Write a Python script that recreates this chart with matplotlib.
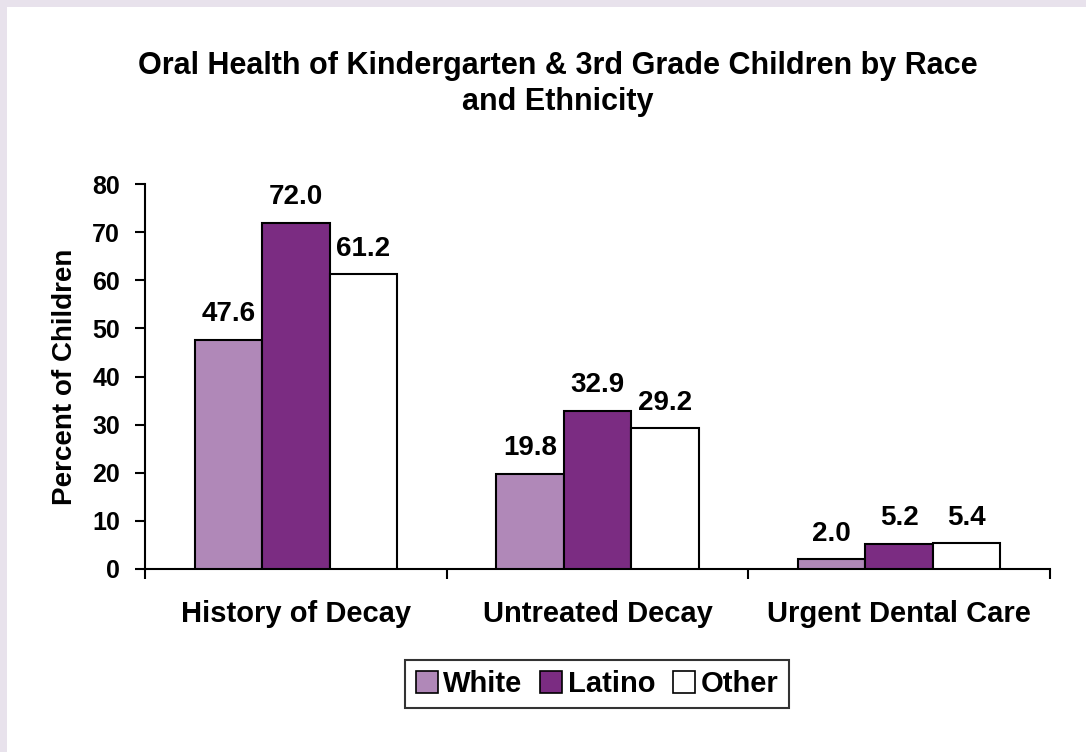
import numpy as np
import matplotlib
matplotlib.use('Agg')
import matplotlib.pyplot as plt
from matplotlib.patches import Rectangle

plt.rcParams['font.family'] = ['Liberation Sans', 'DejaVu Sans']
plt.rcParams['font.weight'] = 'bold'

categories = ['History of Decay', 'Untreated Decay', 'Urgent Dental Care']
groups = ['White', 'Latino', 'Other']
white = [47.6, 19.8, 2.0]
latino = [72.0, 32.9, 5.2]
other = [61.2, 29.2, 5.4]
colors = ['#B088B8', '#7B2C82', '#FFFFFF']

fig = plt.figure(figsize=(10.86, 7.52), dpi=100)
fig.patch.set_facecolor('#E8E2EC')
# white panel, lavender strip only on top and left
fig.patches.append(Rectangle((7/1086, 0), 1, 1 - 7/752, transform=fig.transFigure,
                             facecolor='white', edgecolor='none', zorder=-10))

ax = fig.add_axes([145/1086, (752-569)/752, 905/1086, (569-184)/752])
ax.set_facecolor('none')

x = np.arange(len(categories))
w = 0.2235
for i, (vals, c, lab) in enumerate(zip([white, latino, other], colors, groups)):
    pos = x + (i - 1) * w
    bars = ax.bar(pos, vals, w, color=c, edgecolor='black', linewidth=1.5, label=lab, zorder=3)
    for b, v in zip(bars, vals):
        ax.annotate(f'{v:.1f}', (b.get_x() + b.get_width()/2, v), xytext=(0, 9),
                    textcoords='offset points', ha='center', va='bottom',
                    fontsize=20, fontweight='bold')

ax.set_xlim(-0.5, 2.5)
ax.set_ylim(0, 80)
ax.set_yticks(np.arange(0, 81, 10))
ax.set_xticks([-0.5, 0.5, 1.5, 2.5])
ax.set_xticklabels([])
ax.set_xticks(x, minor=True)
ax.set_xticklabels(categories, minor=True)
ax.tick_params(axis='x', which='minor', length=0, pad=22, labelsize=21)
ax.tick_params(axis='x', which='major', length=7, width=1.5, direction='out')
ax.tick_params(axis='y', length=7, width=1.5, direction='out', labelsize=18, pad=11)
for t in ax.get_yticklabels() + ax.get_xticklabels(minor=True):
    t.set_fontweight('bold')
for s in ['top', 'right']:
    ax.spines[s].set_visible(False)
for s in ['left', 'bottom']:
    ax.spines[s].set_linewidth(1.5)

ax.set_ylabel('Percent of Children', fontsize=20, fontweight='bold', labelpad=10)

fig.text(0.514, 0.888, 'Oral Health of Kindergarten & 3rd Grade Children by Race\nand Ethnicity',
         ha='center', va='center', fontsize=22, fontweight='bold', linespacing=1.25)

leg = ax.legend(loc='center', bbox_to_anchor=(597/1086, 1 - 684/752), bbox_transform=fig.transFigure,
                ncol=3, frameon=True, fancybox=False, handlelength=0.75,
                handleheight=0.75, handletextpad=0.2, columnspacing=0.6, borderpad=0.35,
                prop={'weight': 'bold', 'size': 21})
leg.get_frame().set_edgecolor('black')
leg.get_frame().set_linewidth(1.5)
for h in leg.legend_handles:
    h.set_linewidth(1.2)

fig.savefig('out.png', dpi=100, facecolor=fig.get_facecolor())
